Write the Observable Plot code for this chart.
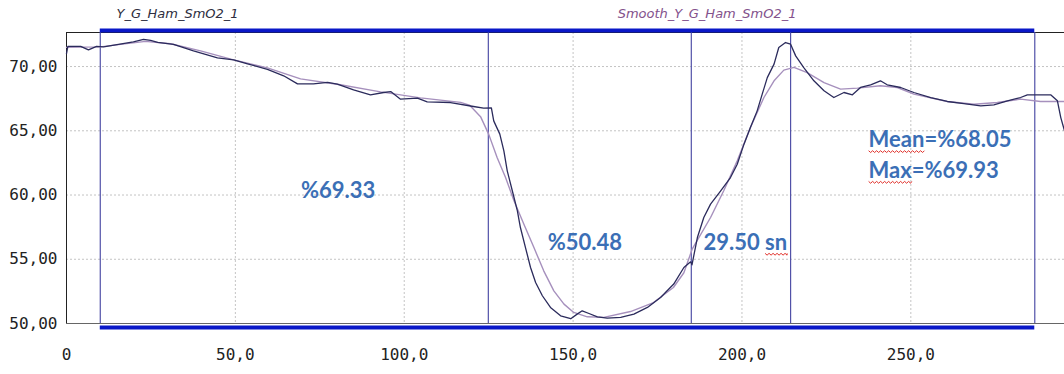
<!DOCTYPE html>
<html>
<head>
<meta charset="utf-8">
<script src="https://cdn.jsdelivr.net/npm/d3@7"></script>
<script src="https://cdn.jsdelivr.net/npm/@observablehq/plot@0.6"></script>
<style>
  html, body { margin: 0; padding: 0; background: #fff; }
  #chart svg { display: block; }
</style>
</head>
<body>
<div id="chart"></div>
<script>
// Series names shown above the plot
const seriesNames = ["Y_G_Ham_SmO2_1", "Smooth_Y_G_Ham_SmO2_1"];

// Raw SmO2 signal: [time (s), SmO2 (%)]
const rawSeries = [
  [0, 71.01], [0.4, 71.57], [4.2, 71.57], [6.5, 71.30], [8.9, 71.57], [11.0, 71.53],
  [14.5, 71.69], [19.8, 71.92], [22.8, 72.12], [24.9, 72.04], [27.0, 71.88], [31.7, 71.73],
  [37.6, 71.22], [44.7, 70.68], [49.5, 70.52], [53.6, 70.21], [59.5, 69.78], [64.3, 69.28],
  [68.4, 68.65], [73.1, 68.65], [77.3, 68.77], [80.2, 68.63], [85.0, 68.19], [90.0, 67.80],
  [93.9, 67.98], [96.0, 68.05], [98.9, 67.46], [103.9, 67.54], [106.8, 67.25], [113.7, 67.20],
  [120.5, 66.89], [123.5, 66.76], [125.8, 66.79], [126.5, 65.77], [128.3, 64.74], [129.5, 63.44],
  [130.5, 61.88], [132.0, 60.33], [133.5, 58.77], [134.4, 57.47], [135.9, 55.91], [137.4, 54.36],
  [138.9, 53.19], [140.9, 52.16], [143.3, 51.25], [146.3, 50.60], [149.3, 50.37], [151.2, 50.73],
  [152.7, 50.99], [154.7, 50.78], [157.2, 50.52], [160.1, 50.42], [164.1, 50.47], [168.0, 50.73],
  [172.0, 51.25], [175.9, 52.02], [179.8, 53.07], [182.8, 54.36], [184.8, 54.80], [185.2, 54.57],
  [186.8, 56.69], [188.7, 58.25], [190.7, 59.29], [193.7, 60.33], [196.6, 61.36], [198.6, 62.40],
  [200.6, 63.96], [202.5, 65.25], [204.5, 66.55], [206.0, 67.85], [207.5, 69.14], [209.5, 70.19],
  [210.9, 71.48], [212.9, 71.87], [214.4, 71.74], [215.9, 70.83], [218.3, 69.92], [221.3, 68.89],
  [224.3, 68.11], [227.2, 67.59], [230.2, 67.98], [232.7, 67.80], [235.1, 68.37], [238.1, 68.58],
  [241.0, 68.89], [243.0, 68.58], [247.0, 68.37], [250.9, 67.98], [255.9, 67.59], [260.8, 67.28],
  [265.7, 67.12], [270.7, 66.94], [274.6, 67.02], [278.6, 67.33], [282.5, 67.59], [284.5, 67.80],
  [291.4, 67.80], [293.4, 67.33], [294.4, 66.03], [295.5, 65.00]
];

// Smoothed SmO2 signal: [time (s), SmO2 (%)]
const smoothSeries = [
  [0, 71.49], [10.1, 71.53], [16.0, 71.73], [23.4, 71.96], [30.8, 71.77], [39.7, 71.22],
  [49.5, 70.52], [59.5, 69.90], [69.3, 69.04], [81.1, 68.58], [93.0, 68.03], [104.8, 67.56],
  [116.7, 67.21], [119.3, 67.00], [122.6, 66.10], [125.0, 64.74], [127.5, 62.92], [130.0, 61.36],
  [132.5, 59.55], [135.4, 57.74], [138.4, 55.91], [141.3, 54.10], [144.3, 52.54], [147.3, 51.51],
  [150.2, 50.86], [154.2, 50.52], [159.1, 50.48], [167.0, 50.93], [173.8, 51.63], [179.7, 52.80],
  [182.8, 53.95], [185.3, 55.81], [190.7, 58.25], [194.6, 60.33], [198.6, 62.66], [202.5, 65.25],
  [206.5, 67.59], [209.5, 68.89], [212.4, 69.72], [215.4, 69.93], [219.3, 69.53], [224.3, 68.75],
  [229.2, 68.24], [234.2, 68.32], [241.0, 68.50], [246.0, 68.37], [250.9, 67.85], [260.8, 67.28],
  [268.7, 67.07], [275.6, 67.20], [282.5, 67.46], [288.4, 67.28], [295.5, 67.28]
];

// Phase boundaries (s)
const markers = [10, 124.9, 185, 214.4, 286.7];

// Axis ticks
const xTicks = [0, 50, 100, 150, 200, 250];
const yTicks = [50, 55, 60, 65, 70];

// Phase annotations
const phaseLabels = ["%69.33", "%50.48", "29.50 sn"];
const statLabels = ["Mean=%68.05", "Max=%69.93"];

const xMax = 295.5, yMin = 50, yMax = 72.65;
const annotColor = "#3b6fb6";
const annotFont = "Lato, 'Open Sans', sans-serif";
const gridStyle = {stroke: "#c4c4c4", strokeOpacity: 1, strokeDasharray: "2,2"};

const fmtX = d => d === 0 ? "0" : d.toFixed(1).replace(".", ",");
const fmtY = d => d.toFixed(2).replace(".", ",");

const annot = (label, x, y, anchor) =>
  Plot.text([label], {x: () => x, y: () => y, text: d => d, textAnchor: anchor,
    fontFamily: annotFont, fontWeight: "bold", fontSize: 22, fill: annotColor});

const plot = Plot.plot({
  width: 1064,
  height: 374,
  marginLeft: 66,
  marginRight: 0,
  marginTop: 32,
  marginBottom: 51,
  x: {domain: [0, xMax], label: null},
  y: {domain: [yMin, yMax], label: null},
  style: {background: "#fff"},
  marks: [
    // dotted grid
    Plot.gridX(xTicks.filter(d => d > 0), gridStyle),
    Plot.gridY(yTicks.filter(d => d > yMin), gridStyle),
    // plot frame
    Plot.ruleX([0], {y1: yMin, y2: yMax, stroke: "#222", strokeWidth: 1}),
    Plot.ruleY([yMax], {stroke: "#222", strokeWidth: 1}),
    Plot.ruleY([yMin], {stroke: "#666", strokeWidth: 1.2}),
    // phase boundaries
    Plot.ruleX(markers, {y1: yMin, y2: yMax, stroke: "#5151a8", strokeWidth: 1.2}),
    // selection bars
    Plot.ruleY([yMax], {x1: markers[0], x2: markers[markers.length - 1], stroke: "#0a18c8", strokeWidth: 4, dy: -2}),
    Plot.ruleY([yMin], {x1: markers[0], x2: markers[markers.length - 1], stroke: "#0a18c8", strokeWidth: 4, dy: 4}),
    // signals
    Plot.line(smoothSeries, {x: d => d[0], y: d => d[1], stroke: "#a690bd", strokeWidth: 1.4}),
    Plot.line(rawSeries, {x: d => d[0], y: d => d[1], stroke: "#2b2b5c", strokeWidth: 1.3}),
    // axes
    Plot.axisX(xTicks, {tickSize: 0, tickPadding: 25, tickFormat: fmtX, fontSize: 16, fontFamily: "'DejaVu Sans Mono', monospace", fill: "#222", label: null}),
    Plot.axisY(yTicks, {tickSize: 0, tickPadding: 9, tickFormat: fmtY, fontSize: 16, fontFamily: "'DejaVu Sans Mono', monospace", fill: "#222", label: null}),
    // series names
    Plot.text([seriesNames[0]], {x: () => 14.8, y: () => yMax, dy: -19, text: d => d, textAnchor: "start", fontStyle: "italic", fontFamily: "'DejaVu Sans', sans-serif", fontSize: 13, fill: "#2e2e40"}),
    Plot.text([seriesNames[1]], {x: () => 163.2, y: () => yMax, dy: -19, text: d => d, textAnchor: "start", fontStyle: "italic", fontFamily: "'DejaVu Sans', sans-serif", fontSize: 13, fill: "#83528c"}),
    // phase annotations
    annot(phaseLabels[0], 80.4, 60.33, "middle"),
    annot(phaseLabels[1], 153.5, 56.26, "middle"),
    annot(phaseLabels[2], 188.6, 56.28, "start"),
    annot(statLabels[0], 237.5, 64.27, "start"),
    annot(statLabels[1], 237.5, 61.88, "start")
  ]
});

document.getElementById("chart").appendChild(plot);

// red wavy spell-check underline beneath a word of a label
function squiggle(label, word, atEnd) {
  d3.select(plot).selectAll("text").filter(function() { return this.textContent === label; }).each(function() {
    const start = atEnd ? label.length - word.length : 0;
    const a = this.getExtentOfChar(start);
    const b = this.getExtentOfChar(start + word.length - 1);
    const x0 = a.x, x1 = b.x + b.width;
    const y = a.y + a.height - 1.5;
    let d = `M${x0},${y}`;
    for (let x = x0, i = 0; x < x1; x += 2, i++) d += `L${Math.min(x + 2, x1)},${y + (i % 2 ? 0 : 1.8)}`;
    d3.select(this.parentNode).append("path")
      .attr("d", d)
      .attr("transform", this.getAttribute("transform"))
      .attr("fill", "none")
      .attr("stroke", "#e0302a")
      .attr("stroke-width", 1);
  });
}
squiggle(statLabels[0], "Mean", false);
squiggle(statLabels[1], "Max", false);
squiggle(phaseLabels[2], "sn", true);
</script>
</body>
</html>
